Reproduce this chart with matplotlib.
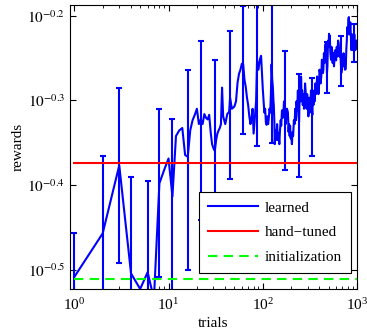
import numpy as np
import matplotlib
matplotlib.use("Agg")
import matplotlib.pyplot as plt
from matplotlib.ticker import FixedLocator, NullLocator, LogLocator

plt.rcParams['font.family'] = ['Liberation Serif', 'DejaVu Serif']
plt.rcParams['mathtext.fontset'] = 'stix'

# learned reward curve
trials = [1, 2, 3, 4, 5, 6, 7, 8, 9, 10, 11, 12, 13, 14, 15, 16, 17, 18, 19, 20,
          21, 22, 23, 24, 25, 26, 27, 28, 29, 30, 31, 32, 33, 34, 35, 36, 37, 38, 40, 42,
          44, 45, 47, 50, 52, 54, 56, 58, 60, 62, 64, 66, 68, 70, 72, 74, 76, 78, 80, 82,
          85, 87, 90, 93, 96,
          100, 102, 104, 106, 108, 110, 112, 114, 116, 118, 120, 122, 124, 126, 128, 130, 131, 133, 134, 136,
          137, 139, 140, 142, 145, 147, 150, 152, 155, 157, 160, 163, 165, 168, 170, 172, 175, 178, 181, 185,
          188, 190, 193, 195, 198, 200, 204, 207, 210, 214, 218, 221, 225, 228, 232, 236, 240, 243, 246, 250,
          253, 255, 258, 262, 266, 270, 274, 278, 281, 285, 288, 292, 296, 300, 305, 310, 315, 320, 325, 330,
          336, 340, 345, 350, 355, 362, 370, 377, 385, 390, 395, 400, 405, 411, 418, 424, 430, 435, 440, 446,
          452, 458, 465, 470, 475, 480, 485, 490, 495, 500, 505, 510, 515, 522, 530, 537, 545, 552, 560, 570,
          580, 590, 600, 610, 620, 630, 640, 650, 660, 672, 681, 690, 700, 710, 720, 730, 745, 760, 770, 780,
          790, 800, 810, 820, 830, 840, 850, 860, 870, 880, 890, 900, 912, 925, 937, 950, 962, 975, 987, 1000]
learned = [0.310, 0.349, 0.420, 0.313, 0.300, 0.314, 0.292, 0.400, 0.415, 0.428, 0.386, 0.455, 0.462, 0.465, 0.432, 0.430, 0.462, 0.475, 0.482, 0.490,
           0.470, 0.476, 0.470, 0.483, 0.478, 0.476, 0.482, 0.460, 0.445, 0.440, 0.437, 0.450, 0.458, 0.462, 0.465, 0.470, 0.519, 0.480, 0.470, 0.483,
           0.486, 0.505, 0.490, 0.493, 0.500, 0.526, 0.539, 0.545, 0.554, 0.553, 0.530, 0.520, 0.505, 0.495, 0.480, 0.470, 0.478, 0.490, 0.458, 0.475,
           0.500, 0.558, 0.545, 0.560, 0.566,
           0.518, 0.500, 0.485, 0.490, 0.472, 0.469, 0.480, 0.470, 0.478, 0.490, 0.485, 0.510, 0.553, 0.530, 0.520, 0.500, 0.495, 0.470, 0.445, 0.462,
           0.460, 0.450, 0.455, 0.470, 0.450, 0.458, 0.445, 0.460, 0.475, 0.468, 0.488, 0.478, 0.480, 0.500, 0.485, 0.494, 0.470, 0.480, 0.490, 0.485,
           0.460, 0.470, 0.455, 0.468, 0.452, 0.458, 0.445, 0.460, 0.455, 0.475, 0.470, 0.490, 0.475, 0.500, 0.487, 0.515, 0.480, 0.473, 0.505, 0.520,
           0.500, 0.535, 0.510, 0.515, 0.495, 0.510, 0.490, 0.500, 0.525, 0.515, 0.495, 0.490, 0.510, 0.495, 0.480, 0.505, 0.485, 0.490, 0.515, 0.495,
           0.482, 0.505, 0.495, 0.515, 0.500, 0.525, 0.510, 0.535, 0.527, 0.510, 0.520, 0.545, 0.541, 0.525, 0.535, 0.560, 0.559, 0.540, 0.545, 0.570,
           0.555, 0.575, 0.585, 0.560, 0.570, 0.540, 0.549, 0.575, 0.590, 0.580, 0.601, 0.585, 0.598, 0.570, 0.560, 0.580, 0.575, 0.555, 0.570, 0.550,
           0.565, 0.575, 0.559, 0.580, 0.565, 0.590, 0.585, 0.565, 0.575, 0.560, 0.540, 0.545, 0.565, 0.550, 0.570, 0.560, 0.545, 0.546, 0.575, 0.590,
           0.612, 0.600, 0.625, 0.629, 0.600, 0.605, 0.620, 0.600, 0.575, 0.585, 0.600, 0.575, 0.590, 0.587, 0.600, 0.586, 0.575, 0.580, 0.590, 0.585]

# trials that carry an error bar, and half-widths
err_trials = [1, 2, 3, 4, 6, 8, 11, 16, 22, 31, 45, 62, 87, 124, 172, 243, 336, 485, 672, 925]
err_size = [0.039, 0.082, 0.098, 0.094, 0.088, 0.090, 0.090, 0.114, 0.114, 0.122,
            0.100, 0.095, 0.115, 0.106, 0.079, 0.066, 0.051, 0.038, 0.038, 0.031]

hand_tuned = 0.4225
initialization = 0.3085

lookup = dict(zip(trials, learned))
err_center = [lookup[t] for t in err_trials]

fig = plt.figure(figsize=(3.67, 3.32), dpi=100)
ax = fig.add_axes([0.1907, 0.1295, 0.782, 0.8555])

lw = 1.5
ax.plot(trials, learned, color='b', lw=lw, label='learned')
ax.errorbar(err_trials, err_center, yerr=err_size, fmt='none', ecolor='b',
            elinewidth=lw, capsize=2.5, capthick=lw)
ax.plot([1, 1000], [hand_tuned, hand_tuned], color='r', lw=lw, label='hand\u2212tuned')
ax.plot([1, 1000], [initialization, initialization], color=(0, 1, 0), lw=lw,
        linestyle=(0, (4.5, 3)), label='initialization')

ax.set_xscale('log')
ax.set_yscale('log')
ax.set_xlim(0.9, 1000)
ax.set_ylim(0.3, 0.65)

yt = [-0.5, -0.4, -0.3, -0.2]
ax.yaxis.set_major_locator(FixedLocator([10 ** v for v in yt]))
ax.set_yticklabels(['$10^{%g}$' % v for v in yt])
ax.yaxis.set_minor_locator(NullLocator())
ax.xaxis.set_major_locator(LogLocator(base=10))
ax.xaxis.set_minor_locator(LogLocator(base=10, subs=np.arange(2, 10)))

ax.tick_params(which='both', direction='in', top=True, right=True, labelsize=11)
ax.tick_params(which='major', length=4)
ax.tick_params(which='minor', length=2)
ax.tick_params(axis='x', pad=6)

ax.set_xlabel('trials', fontsize=11, labelpad=3)
ax.set_ylabel('rewards', fontsize=11, labelpad=2)

leg = ax.legend(loc='lower right', bbox_to_anchor=(0.979, 0.056), borderaxespad=0,
                fontsize=11, fancybox=False, framealpha=1, edgecolor='k',
                handlelength=3.3, handletextpad=0.4, borderpad=0.6, labelspacing=0.72)
leg.get_frame().set_linewidth(0.8)

plt.savefig('out.png', dpi=100)
